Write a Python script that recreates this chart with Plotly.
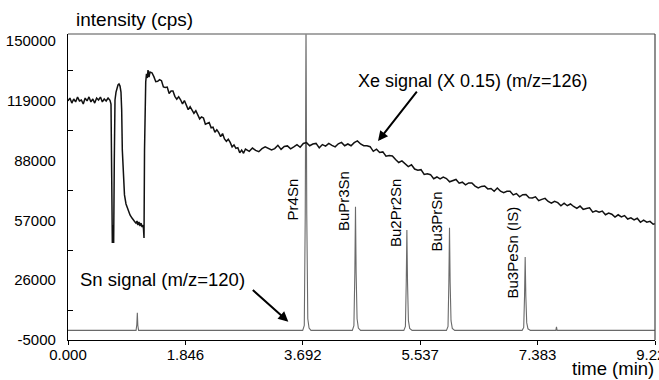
import plotly.graph_objects as go

# ---------------- data ----------------
# Xe signal (x 0.15), m/z=126 : time (min), intensity (cps)
xe_time = [
    0.00, 0.03, 0.06, 0.09, 0.12, 0.15, 0.18, 0.21, 0.24, 0.27, 0.30, 0.33, 0.36, 0.39, 0.42,
    0.45, 0.48, 0.51, 0.54, 0.57, 0.60, 0.63, 0.66,
    0.676, 0.687, 0.697, 0.707, 0.718, 0.728, 0.739, 0.755, 0.770, 0.786, 0.802, 0.818, 0.833,
    0.844, 0.854, 0.869, 0.888, 0.912, 0.943, 0.975, 1.006, 1.038, 1.053, 1.069, 1.085, 1.100,
    1.116, 1.132, 1.148, 1.164, 1.179, 1.187, 1.195, 1.203, 1.211, 1.222, 1.234, 1.247, 1.258,
    1.274, 1.289,
    1.32, 1.35, 1.38, 1.41, 1.44, 1.47, 1.50, 1.53, 1.56, 1.59, 1.62, 1.65, 1.68, 1.71, 1.74,
    1.77, 1.80, 1.83, 1.86, 1.89, 1.92, 1.95, 1.98, 2.01, 2.04, 2.07, 2.10, 2.13, 2.16, 2.19,
    2.22, 2.25, 2.28, 2.31, 2.34, 2.37, 2.40, 2.43, 2.46, 2.49, 2.52, 2.55, 2.58, 2.61, 2.64,
    2.67, 2.70, 2.73, 2.76, 2.79, 2.82, 2.85,
    2.90, 2.95, 3.00, 3.05, 3.10, 3.15, 3.20, 3.25, 3.30, 3.35, 3.40, 3.45, 3.50, 3.55, 3.60,
    3.65, 3.70, 3.75, 3.80, 3.85, 3.90, 3.95, 4.00, 4.05, 4.10, 4.15, 4.20, 4.25, 4.30, 4.35,
    4.40, 4.45, 4.50, 4.55, 4.60, 4.65, 4.70, 4.75, 4.80, 4.85, 4.90,
    4.95, 5.00, 5.05, 5.10, 5.15, 5.20, 5.25, 5.30, 5.35, 5.40, 5.45, 5.50, 5.55, 5.60, 5.65,
    5.70, 5.75, 5.80, 5.85, 5.90, 5.95, 6.00, 6.05, 6.10, 6.15, 6.20, 6.25, 6.30, 6.35, 6.40,
    6.45, 6.50, 6.55, 6.60, 6.65, 6.70, 6.75, 6.80, 6.85, 6.90, 6.95, 7.00, 7.05, 7.10, 7.15,
    7.20, 7.25, 7.30, 7.35, 7.40, 7.45, 7.50, 7.55, 7.60, 7.65, 7.70, 7.75, 7.80, 7.85, 7.90,
    7.95, 8.00, 8.05, 8.10, 8.15, 8.20, 8.25, 8.30, 8.35, 8.40, 8.45, 8.50, 8.55, 8.60, 8.65,
    8.70, 8.75, 8.80, 8.85, 8.90, 8.95, 9.00, 9.05, 9.10, 9.15, 9.20, 9.229,
]
xe_cps = [
    118900, 120400, 117800, 119900, 118400, 120900, 118900, 119400, 117300, 120400, 118900,
    121000, 118400, 119900, 117800, 120400, 119400, 120900, 118400, 119900, 118900, 120400,
    119200,
    117300, 80000, 45300, 54600, 45300, 88300, 119400, 123500, 125600, 127200, 127700, 126600,
    123500, 114200, 93500, 79500, 70200, 65500, 62400, 59800, 58200, 57200, 56200, 55600,
    56700, 54600, 56200, 54100, 55600, 53600, 54600, 52600, 47900, 93500, 122500, 128700,
    132900, 130800, 134900, 131300, 133900,
    133500, 131500, 128900, 129100, 129900, 129400, 126200, 125900, 126100, 122800, 124000,
    124000, 121300, 119800, 121100, 119500, 117400, 119100, 116400, 114400, 115900, 114500,
    112500, 113800, 111500, 109600, 110600, 110100, 106800, 107300, 107700, 105000, 105300,
    102700, 104000, 102500, 100400, 102000, 99200, 98000, 99100, 97400, 95100, 96100, 94300,
    94700, 92000, 93400, 91800, 94000, 93400, 92800,
    94500, 93300, 92600, 94200, 95100, 94400, 93500, 94200, 95900, 93800, 95300, 95600,
    94100, 95100, 96200, 94900, 96900, 97300, 95700, 96600, 96900, 94600, 96300, 95500,
    96900, 95900, 95100, 96700, 97400, 95700, 96600, 95700, 97300, 98200, 96600, 95700,
    95700, 95200, 92800, 93900, 92200,
    92500, 90300, 90600, 90400, 88500, 87000, 87800, 86500, 84900, 85800, 83600, 83000,
    83300, 80800, 81100, 80700, 78600, 79500, 78500, 79400, 78700, 77000, 77500, 78200,
    76300, 76800, 75400, 76400, 76400, 74800, 73800, 74600, 74800, 73300, 73500, 72100,
    73800, 72100, 71400, 72100, 72100, 70200, 70900, 69200, 70300, 70400, 68700, 68600,
    69200, 67200, 67900, 68400, 66800, 65900, 66900, 66200, 64600, 65900, 64600, 65500,
    64200, 63200, 64400, 62700, 63200, 63500, 61300, 62000, 61200, 61800, 59900, 60800,
    60200, 58700, 59900, 58800, 59500, 57700, 58300, 57200, 58100, 56000, 57100, 56100,
    56500, 55000, 55300,
]

# Sn signal, m/z=120 : time (min), intensity (cps)
sn_time = [
    0.00, 1.07, 1.082, 1.09, 1.098, 1.11,
    3.69, 3.715, 3.730, 3.742, 3.754, 3.770, 3.790, 3.82,
    4.47, 4.495, 4.510, 4.520, 4.530, 4.545, 4.565, 4.60,
    5.28, 5.305, 5.318, 5.328, 5.338, 5.352, 5.372, 5.41,
    5.95, 5.975, 5.988, 5.998, 6.008, 6.022, 6.042, 6.08,
    7.14, 7.165, 7.178, 7.188, 7.198, 7.212, 7.232, 7.27,
    7.67, 7.68, 7.69, 9.229,
]
sn_cps = [
    0, 0, 3000, 9150, 2500, 0,
    0, 2500, 60000, 160000, 60000, 6000, 1200, 0,
    0, 2400, 30000, 64100, 30000, 6000, 1200, 0,
    0, 2000, 25000, 52000, 25000, 5000, 1000, 0,
    0, 2000, 25000, 53200, 25000, 5000, 1000, 0,
    0, 1500, 18000, 38000, 18000, 4000, 800, 0,
    0, 1800, 0, 0,
]

x_ticks = [0.000, 1.846, 3.692, 5.537, 7.383, 9.229]
x_tick_text = ["0.000", "1.846", "3.692", "5.537", "7.383", "9.229"]
y_ticks = [-5000, 26000, 57000, 88000, 119000, 150000]
y_tick_text = ["-5000", "26000", "57000", "88000", "119000", "150000"]
y_minor = [10500, 41500, 72500, 103500, 134500]

peak_labels = ["Pr4Sn", "BuPr3Sn", "Bu2Pr2Sn", "Bu3PrSn", "Bu3PeSn (IS)"]
peak_label_time = [3.530, 4.324, 5.141, 5.797, 6.989]
peak_label_cps = [67600, 67000, 60800, 56300, 40100]

FONT = "Liberation Sans, Arial, Helvetica, sans-serif"

fig = go.Figure()
fig.add_trace(go.Scatter(x=sn_time, y=sn_cps, mode="lines",
                         line=dict(color="#6a6a6a", width=1.1), hoverinfo="skip"))
fig.add_trace(go.Scatter(x=xe_time, y=xe_cps, mode="lines",
                         line=dict(color="#111111", width=1.5), hoverinfo="skip"))

ann = []
for lab, t, c in zip(peak_labels, peak_label_time, peak_label_cps):
    ann.append(dict(x=t, y=c, xref="x", yref="y", text=lab, showarrow=False,
                    textangle=-90, xanchor="center", yanchor="middle",
                    font=dict(family=FONT, size=15, color="black")))

ann += [
    dict(x=4.528, y=129200, xref="x", yref="y", text="Xe signal (X 0.15) (m/z=126)",
         showarrow=False, xanchor="left", yanchor="middle",
         font=dict(family=FONT, size=18, color="black")),
    dict(x=4.874, y=98100, xref="x", yref="y", text="", showarrow=True,
         ax=40, ay=-51, arrowhead=2, arrowsize=1, arrowwidth=2, arrowcolor="black"),
    dict(x=0.157, y=26600, xref="x", yref="y", text="Sn signal (m/z=120)",
         showarrow=False, xanchor="left", yanchor="middle",
         font=dict(family=FONT, size=18.5, color="black")),
    dict(x=3.464, y=4500, xref="x", yref="y", text="", showarrow=True,
         ax=-37, ay=-33, arrowhead=2, arrowsize=1, arrowwidth=2, arrowcolor="black"),
    dict(x=0.0102, y=1.0458, xref="paper", yref="paper", text="intensity (cps)",
         showarrow=False, xanchor="left", yanchor="middle",
         font=dict(family=FONT, size=19, color="black")),
    dict(x=1.0, y=0.0, xref="paper", yref="paper", yshift=-40, text="time (min)",
         showarrow=False, xanchor="right", yanchor="bottom", borderpad=0,
         font=dict(family=FONT, size=18.5, color="black")),
]

fig.update_layout(
    width=659, height=380,
    margin=dict(l=68, r=4, t=34, b=40),
    paper_bgcolor="white", plot_bgcolor="white",
    showlegend=False, hovermode=False,
    annotations=ann,
    shapes=[
        dict(type="line", xref="paper", yref="paper", x0=0, x1=1, y0=1, y1=1,
             line=dict(color="#8a8a8a", width=1.5)),
        dict(type="line", xref="paper", yref="paper", x0=1, x1=1, y0=0, y1=1,
             line=dict(color="#444444", width=1.2)),
    ],
    xaxis=dict(range=[0, 9.229], tickvals=x_ticks, ticktext=x_tick_text,
               showgrid=False, zeroline=False, showline=True, linecolor="black",
               linewidth=1.2, ticks="outside", ticklen=4, tickcolor="black",
               ticklabeloverflow="allow", ticklabelstandoff=-3,
               tickfont=dict(family=FONT, size=15, color="black"), automargin=False),
    yaxis=dict(range=[-5000, 153600], tickvals=y_ticks, ticktext=y_tick_text,
               showgrid=False, zeroline=False, showline=True, linecolor="black",
               linewidth=1.2, ticks="", ticklabelstandoff=8,
               minor=dict(tickvals=y_minor, ticks="inside", ticklen=5,
                          tickcolor="black", showgrid=False),
               tickfont=dict(family=FONT, size=15, color="black"), automargin=False),
)

fig.write_html(
    "out.html",
    config={"displayModeBar": False},
    post_script="document.body.style.margin='0';document.body.style.padding='0';",
)
